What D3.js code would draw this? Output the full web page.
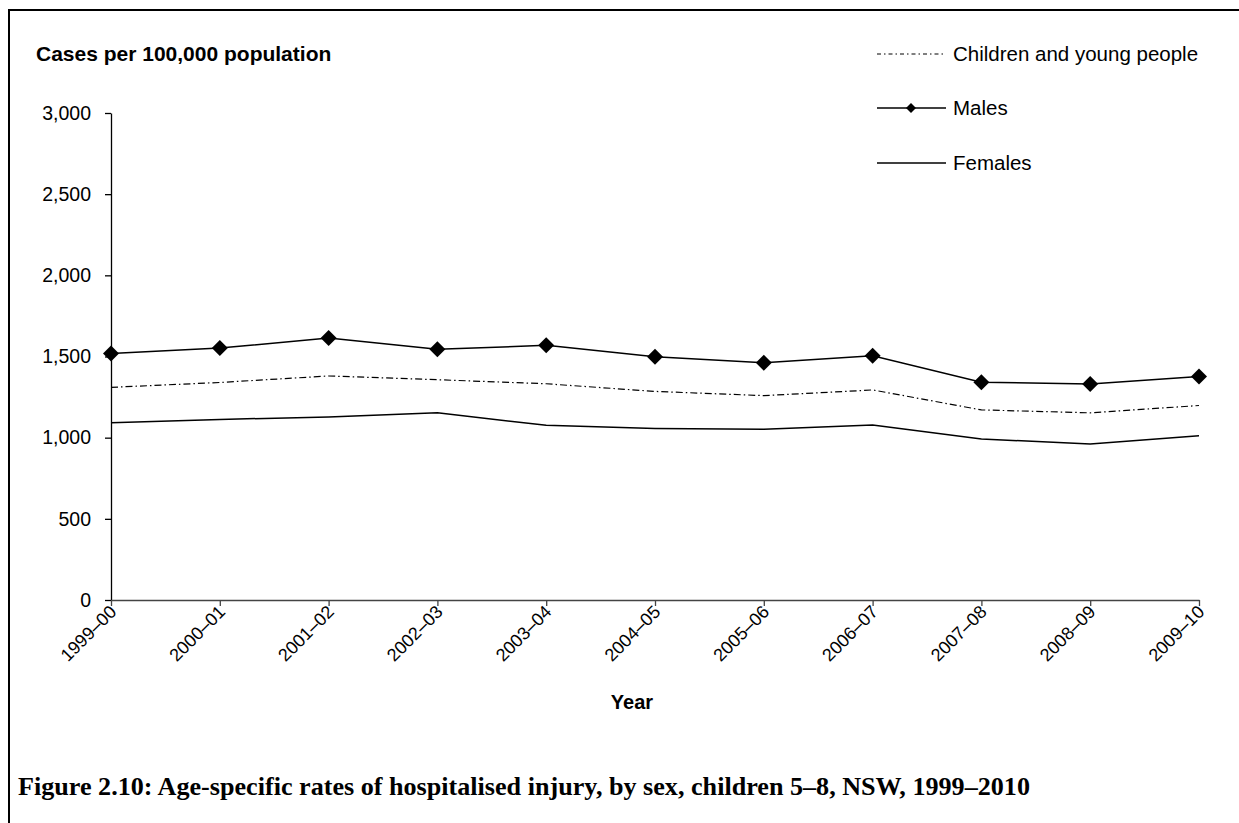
<!DOCTYPE html>
<html>
<head>
<meta charset="utf-8">
<script src="https://cdn.jsdelivr.net/npm/d3@7"></script>
<style>
html,body{margin:0;padding:0;background:#fff;}
svg{display:block;}
</style>
</head>
<body>
<svg id="chart" width="1239" height="823"></svg>
<script>
const years = ["1999–00","2000–01","2001–02","2002–03","2003–04","2004–05","2005–06","2006–07","2007–08","2008–09","2009–10"];
const children = [1310,1340,1380,1357,1332,1285,1259,1294,1171,1153,1198];
const males = [1519,1552,1614,1544,1569,1499,1461,1505,1341,1331,1377];
const females = [1092,1112,1128,1153,1076,1057,1052,1078,992,961,1012];
const yTicks = [0,500,1000,1500,2000,2500,3000];
const legendLabels = ["Children and young people","Males","Females"];
const yTitle = "Cases per 100,000 population";
const xTitle = "Year";
const caption = "Figure 2.10: Age-specific rates of hospitalised injury, by sex, children 5–8, NSW, 1999–2010";

const svg = d3.select("#chart");
const font = "Liberation Sans, Arial, sans-serif";

// frame
svg.append("path").attr("d","M9,823 L9,10 L1239,10").attr("fill","none").attr("stroke","#000").attr("stroke-width",2);

const x = d3.scalePoint().domain(years).range([111,1199]);
const y = d3.scaleLinear().domain([0,3000]).range([600,113]);

// y axis
const gy = svg.append("g").attr("transform","translate(111,0)")
  .call(d3.axisLeft(y).tickValues(yTicks).tickFormat(d3.format(",")).tickSize(6).tickSizeOuter(0).tickPadding(14));
gy.select(".domain").attr("stroke","#000").attr("stroke-width",1.3);
gy.selectAll(".tick line").attr("stroke","#000").attr("stroke-width",1.3);
gy.selectAll(".tick text").attr("font-family",font).attr("font-size",19.5).attr("fill","#000");

// x axis
const gx = svg.append("g").attr("transform","translate(0,600)")
  .call(d3.axisBottom(x).tickSize(6).tickSizeOuter(0));
gx.select(".domain").attr("stroke","#444").attr("stroke-width",1.3);
gx.selectAll(".tick line").attr("stroke","#444").attr("stroke-width",1.3);
gx.selectAll(".tick text")
  .attr("font-family",font).attr("font-size",18).attr("fill","#000")
  .attr("text-anchor","end").attr("dy",null).attr("y",0)
  .attr("transform","translate(6,13) rotate(-45)");

// titles
svg.append("text").attr("x",36).attr("y",61).attr("font-family",font).attr("font-weight","bold").attr("font-size",21).text(yTitle);
svg.append("text").attr("x",632).attr("y",709).attr("text-anchor","middle").attr("font-family",font).attr("font-weight","bold").attr("font-size",20).text(xTitle);
svg.append("text").attr("x",18).attr("y",795).attr("font-family","Liberation Serif, 'DejaVu Serif', serif").attr("font-weight","bold").attr("font-size",25)
  .attr("textLength",1012).attr("lengthAdjust","spacingAndGlyphs").text(caption);

const line = d3.line().x((d,i)=>x(years[i])).y(d=>y(d));
const dash = "7,3,1.5,3";

svg.append("path").datum(children).attr("d",line).attr("fill","none").attr("stroke","#000").attr("stroke-width",1.2).attr("stroke-dasharray",dash);
svg.append("path").datum(females).attr("d",line).attr("fill","none").attr("stroke","#000").attr("stroke-width",1.5);
svg.append("path").datum(males).attr("d",line).attr("fill","none").attr("stroke","#000").attr("stroke-width",1.5);

const dPath = (s)=>`M0,${-s} L${s},0 L0,${s} L${-s},0 Z`;
svg.append("g").selectAll("path").data(males).join("path")
  .attr("d",dPath(8))
  .attr("transform",(d,i)=>`translate(${x(years[i])},${y(d)})`)
  .attr("fill","#000");

// legend
const lg = svg.append("g");
const ly = [54,108,163];
legendLabels.forEach((lab,i)=>{
  const l = lg.append("line").attr("x1",877).attr("x2",946).attr("y1",ly[i]).attr("y2",ly[i]).attr("stroke","#000");
  if(i===0){ l.attr("stroke-width",1).attr("stroke-dasharray","4,3,1.5,3"); }
  else { l.attr("stroke-width",1.5); }
  if(i===1){ lg.append("path").attr("d",dPath(5)).attr("transform",`translate(911,${ly[i]})`).attr("fill","#000"); }
  lg.append("text").attr("x",953).attr("y",ly[i]).attr("dy","0.35em").attr("font-family",font).attr("font-size",20.5).text(lab);
});
</script>
</body>
</html>
